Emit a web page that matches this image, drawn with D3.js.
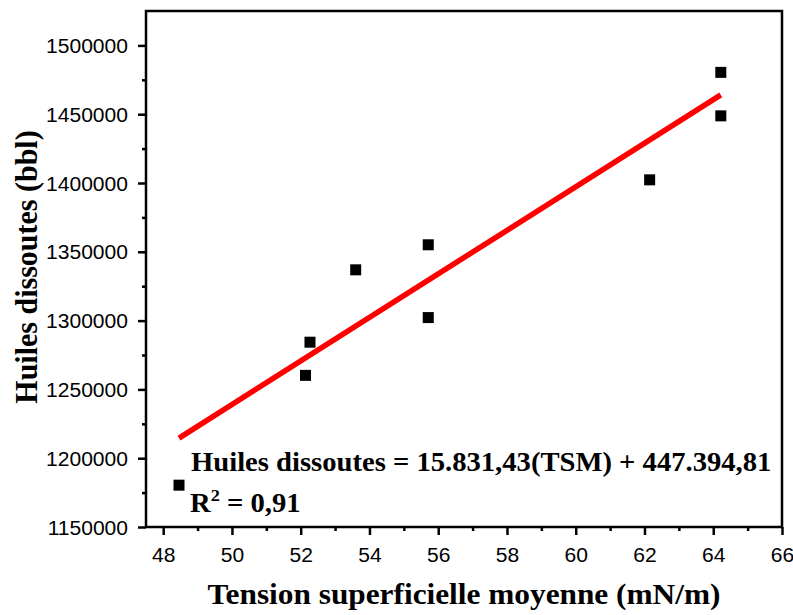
<!DOCTYPE html>
<html><head><meta charset="utf-8">
<script src="https://cdn.jsdelivr.net/npm/d3@7"></script>
<style>body{margin:0;background:#fff}svg{display:block}</style>
</head><body>
<svg id="c" width="793" height="615"></svg>
<script>
const tsm = [48.46, 52.14, 52.27, 53.6, 55.71, 55.71, 62.15, 64.22, 64.22];
const huiles = [1180400, 1260200, 1284300, 1336900, 1302200, 1355100, 1402300, 1448800, 1480400];
const fitSlope = 15831.43, fitIntercept = 447394.81;
const xTicks = [48, 50, 52, 54, 56, 58, 60, 62, 64, 66];
const yTicks = [1150000, 1200000, 1250000, 1300000, 1350000, 1400000, 1450000, 1500000];
const xTitle = "Tension superficielle moyenne (mN/m)";
const yTitle = "Huiles dissoutes (bbl)";
const eqText = "Huiles dissoutes = 15.831,43(TSM) + 447.394,81";
const r2Value = "0,91";

const L = 146, R = 782, T = 11, B = 527, SX = 1.08;
const svg = d3.select("#c");
const x = d3.scaleLinear().domain([47.5, 66]).range([L, R]);
const y = d3.scaleLinear().domain([1150000, 1525000]).range([B, T]);

// frame
svg.append("rect").attr("x", L).attr("y", T).attr("width", R - L).attr("height", B - T)
  .attr("fill", "none").attr("stroke", "#000").attr("stroke-width", 2.5);

// minor ticks
const xMinor = d3.range(48, 66.01, 1).filter(v => !xTicks.includes(v));
const yMinor = d3.range(1175000, 1525000, 50000);
svg.append("g").attr("transform", `translate(0,${B})`)
  .call(d3.axisBottom(x).tickValues(xMinor).tickSize(4).tickSizeOuter(0).tickFormat(""))
  .call(g => g.select(".domain").remove())
  .call(g => g.selectAll("line").attr("stroke-width", 2.5));
svg.append("g").attr("transform", `translate(${L},0)`)
  .call(d3.axisLeft(y).tickValues(yMinor).tickSize(4).tickSizeOuter(0).tickFormat(""))
  .call(g => g.select(".domain").remove())
  .call(g => g.selectAll("line").attr("stroke-width", 2.5));

// major ticks
svg.append("g").attr("transform", `translate(0,${B})`)
  .call(d3.axisBottom(x).tickValues(xTicks).tickSize(8).tickSizeOuter(0).tickFormat(d3.format("d")))
  .call(g => g.select(".domain").remove())
  .call(g => g.selectAll("line").attr("stroke-width", 2.5))
  .call(g => g.selectAll("text").attr("y", null).attr("dy", null).attr("x", null)
     .attr("transform", `translate(0,35) scale(${SX},1)`)
     .attr("font-family", "Liberation Sans, Arial, sans-serif").attr("font-size", 19.5).attr("fill", "#000"));
svg.append("g").attr("transform", `translate(${L},0)`)
  .call(d3.axisLeft(y).tickValues(yTicks).tickSize(8).tickSizeOuter(0).tickFormat(d3.format("d")))
  .call(g => g.select(".domain").remove())
  .call(g => g.selectAll("line").attr("stroke-width", 2.5))
  .call(g => g.selectAll("text").attr("x", null).attr("dy", null)
     .attr("transform", `translate(-18,7) scale(${SX},1)`).attr("text-anchor", "end")
     .attr("font-family", "Liberation Sans, Arial, sans-serif").attr("font-size", 19.5).attr("fill", "#000"));

// fit line
const xMin = d3.min(tsm), xMax = d3.max(tsm);
svg.append("line")
  .attr("x1", x(xMin)).attr("y1", y(fitSlope * xMin + fitIntercept))
  .attr("x2", x(xMax)).attr("y2", y(fitSlope * xMax + fitIntercept))
  .attr("stroke", "#ff0000").attr("stroke-width", 5.5);

// points
const pts = tsm.map((v, i) => [v, huiles[i]]);
svg.append("g").selectAll("rect").data(pts).join("rect")
  .attr("x", d => x(d[0]) - 5.5).attr("y", d => y(d[1]) - 5.5)
  .attr("width", 11).attr("height", 11).attr("fill", "#000");

const serif = "Liberation Serif, Times New Roman, serif";
// equation
svg.append("text").attr("transform", `translate(191,471) scale(${SX},1)`)
  .attr("font-family", serif).attr("font-weight", "bold").attr("font-size", 26.5).text(eqText);
const r2 = svg.append("text").attr("transform", `translate(190,512) scale(${SX},1)`)
  .attr("font-family", serif).attr("font-weight", "bold").attr("font-size", 26.5);
r2.append("tspan").text("R");
r2.append("tspan").attr("font-size", 17).attr("dy", -11).text("2");
r2.append("tspan").attr("dy", 11).text(" = " + r2Value);

// axis titles
svg.append("text").attr("transform", `translate(${(L + R) / 2},604) scale(${SX},1)`)
  .attr("text-anchor", "middle").attr("font-family", serif).attr("font-weight", "bold")
  .attr("font-size", 29).text(xTitle);
svg.append("text").attr("transform", `translate(37,${(T + B) / 2 - 2}) rotate(-90) scale(1,${SX})`)
  .attr("text-anchor", "middle").attr("font-family", serif).attr("font-weight", "bold")
  .attr("font-size", 30).text(yTitle);
</script>
</body></html>
